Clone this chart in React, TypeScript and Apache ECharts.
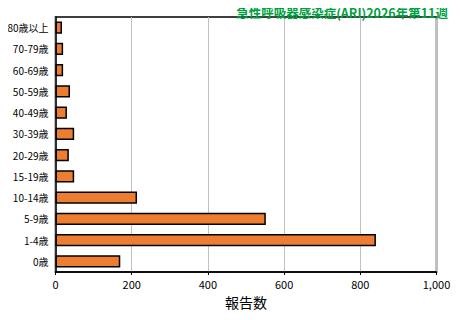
import React, { useEffect, useRef } from "react";
import * as echarts from "echarts";

const categories = ["0歳", "1-4歳", "5-9歳", "10-14歳", "15-19歳", "20-29歳", "30-39歳", "40-49歳", "50-59歳", "60-69歳", "70-79歳", "80歳以上"];
const reports = [170, 841, 552, 214, 49, 35, 49, 30, 38, 20, 20, 17];
const titleText = "急性呼吸器感染症(ARI)2026年第11週";
const xAxisName = "報告数";
const xMin = 0;
const xMax = 1000;
const xInterval = 200;

const FONT = "'Noto Sans CJK JP', 'DejaVu Sans', sans-serif";

export default function App() {
  const ref = useRef<HTMLDivElement>(null);
  useEffect(() => {
    if (!ref.current) return;
    const chart = echarts.init(ref.current, null, { renderer: "svg" });
    chart.setOption({
      animation: false,
      backgroundColor: "#ffffff",
      title: {
        text: titleText,
        right: 7,
        top: 1,
        textStyle: { color: "#00a040", fontSize: 12.5, fontWeight: "bold", fontFamily: FONT },
      },
      grid: { left: 55.5, right: 23.5, top: 17, bottom: 48, show: true, borderColor: "#000", borderWidth: 1.5, backgroundColor: "transparent" },
      xAxis: {
        type: "value",
        min: xMin,
        max: xMax,
        interval: xInterval,
        name: xAxisName,
        nameLocation: "middle",
        nameGap: 23,
        nameTextStyle: { color: "#000", fontSize: 14, fontFamily: FONT },
        axisLine: { show: true, lineStyle: { color: "#000", width: 1.5 } },
        axisTick: { show: true, length: 3, lineStyle: { color: "#000" } },
        axisLabel: {
          color: "#000",
          fontSize: 11,
          fontFamily: FONT,
          margin: 6,
          formatter: (v: number) => v.toLocaleString("en-US"),
        },
        splitLine: { show: true, lineStyle: { color: "#c0c0c0", width: 1 } },
      },
      yAxis: {
        type: "category",
        data: categories,
        axisLine: { show: true, lineStyle: { color: "#000", width: 1.5 } },
        axisTick: { show: false },
        axisLabel: { color: "#000", fontSize: 10, fontFamily: FONT, margin: 7 },
      },
      series: [
        {
          type: "bar",
          data: reports,
          barCategoryGap: "43%",
          itemStyle: { color: "#ED7D31", borderColor: "#000", borderWidth: 1.5 },
        },
      ],
    });
    return () => chart.dispose();
  }, []);
  return <div ref={ref} style={{ width: 460, height: 320, marginLeft: -8, marginTop: -8 }} />;
}
